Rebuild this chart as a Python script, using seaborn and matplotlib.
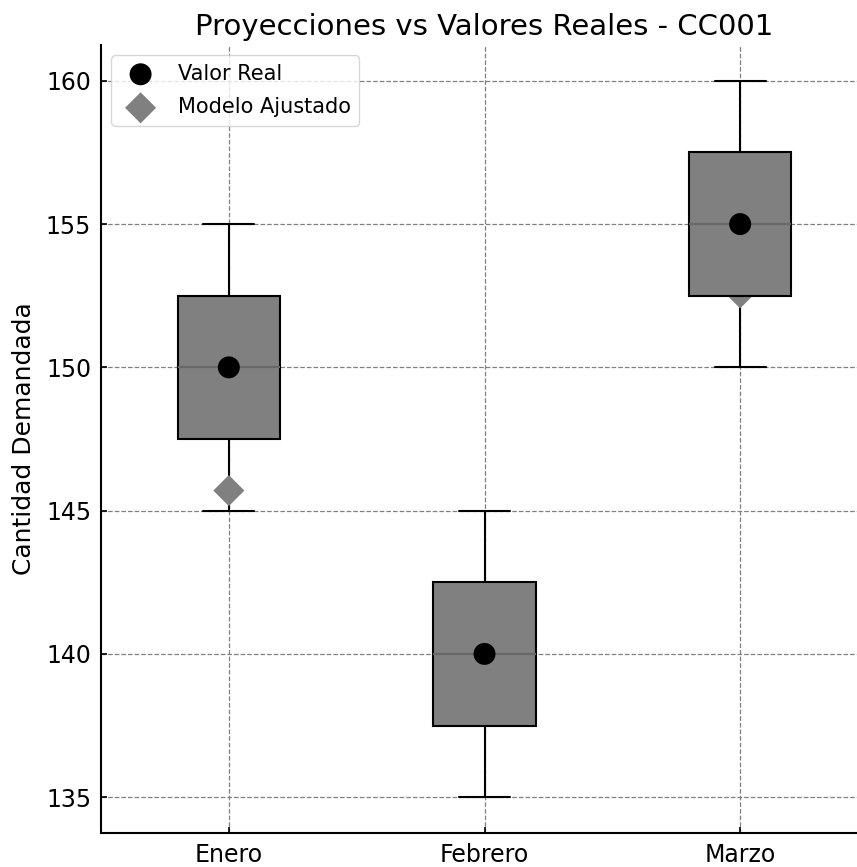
import matplotlib
matplotlib.use("Agg")
import matplotlib.pyplot as plt
import seaborn as sns
import pandas as pd

meses = ["Enero", "Febrero", "Marzo"]
rango_bajo = [145, 135, 150]
rango_medio = [150, 140, 155]
rango_alto = [155, 145, 160]
valor_real = [150, 140, 155]
modelo_ajustado = [145.7, 140.0, 152.6]

sns.set_style("white")
plt.rcParams['font.family'] = ['DejaVu Sans']
plt.rcParams['text.color'] = 'black'
plt.rcParams['axes.labelcolor'] = 'black'
plt.rcParams['xtick.color'] = 'black'
plt.rcParams['ytick.color'] = 'black'

rows = []
for m, a, b, c in zip(meses, rango_bajo, rango_medio, rango_alto):
    for v in (a, b, c):
        rows.append({"Mes": m, "Cantidad": v})
df_box = pd.DataFrame(rows)
df_real = pd.DataFrame({"Mes": meses, "Cantidad": valor_real})
df_mod = pd.DataFrame({"Mes": meses, "Cantidad": modelo_ajustado})

fig = plt.figure(figsize=(8.57, 8.67), dpi=100)
ax = fig.add_axes([101/857, (867-833)/867, (868-101)/857, (833-45)/867])

sns.boxplot(data=df_box, x="Mes", y="Cantidad", order=meses, ax=ax, width=0.4,
            color="#808080", saturation=1, linecolor="black", linewidth=1.5,
            boxprops=dict(zorder=3, facecolor="#808080", edgecolor="black"),
            whiskerprops=dict(zorder=1.5, color="black"),
            capprops=dict(zorder=1.5, color="black"),
            medianprops=dict(zorder=3.1, color="#686868", linewidth=1.5))

sns.scatterplot(data=df_mod, x="Mes", y="Cantidad", ax=ax, marker="D", s=250,
                color="#808080", edgecolor="none", zorder=2, label="Modelo Ajustado")
sns.scatterplot(data=df_real, x="Mes", y="Cantidad", ax=ax, marker="o", s=250,
                color="black", edgecolor="none", zorder=4, label="Valor Real")

ax.set_xlim(-0.5, 2.5)
ax.set_ylim(133.75, 161.25)
ax.set_yticks([135, 140, 145, 150, 155, 160])
ax.grid(True, linestyle="--", color="#808080", linewidth=0.9)
ax.set_axisbelow(True)
for s in ("top", "right"):
    ax.spines[s].set_visible(False)
for s in ("left", "bottom"):
    ax.spines[s].set_linewidth(1.5)
    ax.spines[s].set_color("black")
ax.tick_params(axis="both", labelsize=17, length=4, width=1.2, direction="in",
               left=True, bottom=True, pad=7)
ax.set_xlabel("")
ax.set_ylabel("Cantidad Demandada", fontsize=18, labelpad=7)
ax.set_title("Proyecciones vs Valores Reales - CC001", fontsize=21, pad=7)

handles, labels = ax.get_legend_handles_labels()
order = [labels.index("Valor Real"), labels.index("Modelo Ajustado")]
ax.legend([handles[i] for i in order], [labels[i] for i in order], loc="upper left",
          fontsize=15, frameon=True, edgecolor="#cccccc", markerscale=1.0,
          labelspacing=0.65)

fig.savefig("out.png", dpi=100)
